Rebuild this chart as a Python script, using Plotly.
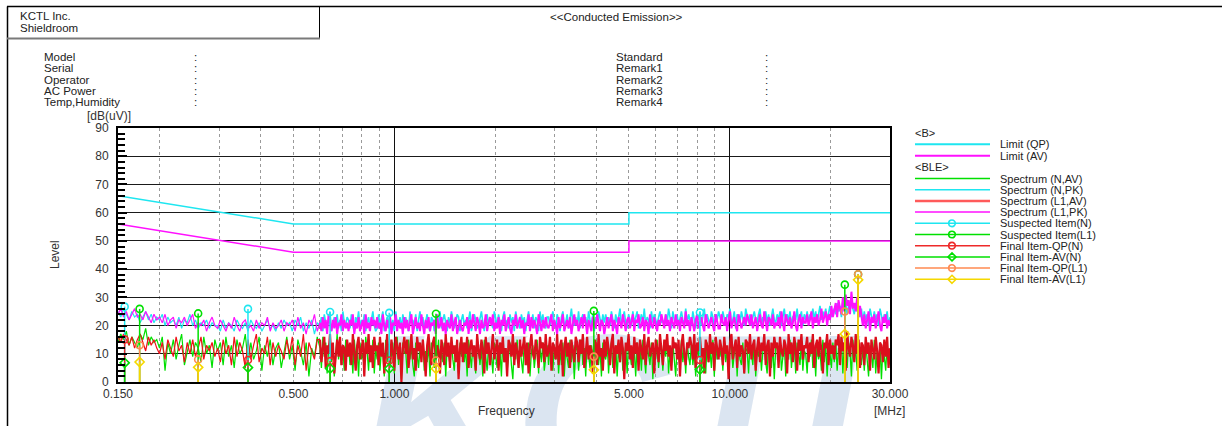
import base64
import numpy as np
import plotly.graph_objects as go

# ---------------------------------------------------------------- data
# Limit lines (CISPR-style), MHz / dB(uV)
limit_freq = [0.15, 0.5, 5.0, 5.0, 30.0]
limit_qp = [66, 56, 56, 60, 60]
limit_av = [56, 46, 46, 50, 50]

# Spectrum sweeps: segment A = 0.15..0.6 MHz, segment B = 0.6..30 MHz (log-spaced sweep points)
mag_A = [24,26,23,25,22,24,26,23,24,22,25,23,21,24,22,
         23,21,24,20,22,23,19,22,21,23,20,22,24,19,21,20,22,18,21,23,20,
         19,22,20,18,21,19,23,20,18,21,22,19,20,18,22,19,21,20,23,18,21,19,20,22,18,21,
         20,22,18,23,19,21,17,22,20,24,18]
cyan_A = [25,23,26,24,22,25,23,24,21,23,25,22,24,21,23,
          22,24,20,23,21,22,20,23,19,22,21,24,20,22,19,21,20,22,19,21,20,
          20,18,22,19,21,20,18,22,20,19,21,18,22,20,19,21,18,20,22,19,20,18,21,19,22,20,
          21,18,22,20,23,18,21,19,22,17,21]
red_A = [16,14,17,15,13,16,12,15,17,14,11,16,13,15,12,
         10,14,8,15,12,9,16,11,13,7,14,10,15,9,12,16,8,13,11,14,9,
         12,7,15,10,13,6,16,9,14,11,5,15,8,13,17,7,12,10,16,6,14,9,13,11,8,15,
         10,16,6,13,9,17,4,14,11,8,15]
green_A = [14,17,15,18,13,16,14,12,17,15,19,13,16,14,15,
           12,16,4,14,10,15,8,13,17,6,11,15,9,14,12,7,16,10,13,5,15,
           11,14,6,16,9,13,5,15,10,12,17,7,14,8,11,16,4,13,9,15,6,12,14,5,10,16,
           8,13,4,15,11,6,14,2,12,9,16]

mag_B = [21,18,23,19,22,17,24,20,18,22,19,23,17,21,20,24,18,22,19,21,
         18,22,20,24,17,21,19,23,18,20,22,17,24,19,21,18,23,20,22,19,
         23,19,21,17,24,20,18,22,19,23,17,21,20,24,18,22,19,21,17,23,
         19,22,18,21,24,17,20,23,19,21,18,24,20,17,22,19,23,18,21,20,
         22,17,24,19,20,23,18,21,17,22,20,19,24,18,21,23,17,20,22,19,
         18,21,20,23,17,22,19,24,20,18,23,21,17,22,19,20,24,18,21,23,
         20,24,18,21,19,23,17,22,20,24,18,21,23,19,17,22,20,24,19,21,
         23,19,22,17,21,20,24,18,23,19,22,20,17,24,21,18,22,19,23,20,
         19,21,24,18,22,20,17,23,19,21,24,18,20,22,19,23,17,21,24,20,
         22,18,20,23,19,24,21,17,22,20,18,23,21,19,24,20,18,22,21,17,
         20,23,19,21,24,18,22,20,17,23,21,19,24,20,18,22,23,19,21,24,
         18,22,21,24,19,20,23,18,22,21,17,24,20,19,23,21,18,22,20,24,
         21,19,24,20,22,18,23,21,19,24,20,22,18,23,21,19,25,20,22,18,
         23,20,18,22,24,19,21,23,20,18,24,22,19,21,23,20,18,24,21,19,
         19,24,21,20,23,18,22,25,19,21,23,20,18,24,22,19,21,23,20,24,
         22,20,24,19,21,23,18,22,24,20,19,25,21,18,23,22,20,24,19,21,
         20,23,19,25,21,18,24,22,20,23,19,21,25,20,18,22,24,19,23,21,
         21,24,20,22,25,19,23,21,24,20,22,26,21,23,25,20,24,22,27,23,
         25,28,23,29,26,24,30,25,31,27,29,24,32,26,28,25,30,23,27,24,
         20,24,19,22,25,18,23,21,24,19,22,25,20,18,23,21,24,19,22,20]
cyan_B = [20,23,18,24,21,19,22,25,18,21,23,20,24,19,22,18,25,21,20,23,
          22,19,24,20,18,23,21,25,19,22,20,24,18,21,23,19,22,25,20,18,
          19,24,20,22,25,18,21,23,20,24,19,22,18,25,21,20,23,19,24,21,
          23,20,18,25,21,22,19,24,18,22,25,20,23,19,21,24,20,18,23,22,
          18,23,21,20,25,19,22,24,21,18,23,20,25,22,19,21,24,23,18,22,
          24,20,22,19,23,25,18,21,24,22,19,20,23,25,21,18,22,24,20,23,
          21,19,25,22,20,24,21,18,23,25,20,22,19,24,21,23,18,25,22,20,
          19,24,21,23,18,22,25,20,21,24,19,23,22,18,25,21,24,20,19,23,
          23,20,22,25,21,19,24,22,18,23,25,20,21,24,19,22,26,21,20,23,
          20,25,19,22,24,21,23,19,25,22,20,24,18,23,21,25,22,20,24,21,
          24,21,23,20,25,22,19,24,21,23,26,20,22,25,21,19,24,22,20,25,
          21,23,25,19,22,24,21,26,20,23,22,19,25,21,24,22,20,23,25,21,
          22,20,24,21,26,23,19,25,22,21,24,20,23,25,22,20,26,21,24,22,
          20,25,22,19,24,22,25,20,23,26,21,24,22,20,25,23,19,24,22,25,
          23,21,25,22,20,24,23,26,21,22,25,19,24,23,21,25,22,20,26,23,
          21,24,20,23,25,22,21,24,26,20,23,22,25,21,24,20,23,26,22,21,
          24,22,25,20,23,26,21,24,22,25,20,23,24,22,26,21,23,25,20,24,
          22,25,21,24,23,26,22,25,21,24,27,22,25,23,26,22,24,27,23,25,
          26,24,28,25,27,23,29,26,28,24,27,25,29,26,24,28,25,27,23,26,
          21,25,22,24,20,26,23,21,25,22,24,20,26,23,21,24,22,25,20,23]
red_B = [15,7,12,16,5,13,10,17,8,14,3,11,15,9,16,6,13,12,4,15,
         9,14,6,17,11,4,13,16,8,12,15,2,14,10,17,7,13,5,16,11,
         13,6,16,9,14,3,12,17,10,7,15,11,4,16,13,8,14,0,12,16,
         10,15,5,13,17,8,12,4,16,11,14,7,15,9,2,13,17,10,6,14,
         16,8,13,11,3,15,12,6,17,9,14,5,16,10,13,7,15,1,12,16,
         7,14,10,16,5,12,15,9,13,4,17,11,8,15,12,3,16,10,14,6,
         13,17,8,11,15,4,14,10,16,7,12,2,15,13,9,17,6,14,11,5,
         15,9,12,16,6,14,3,13,17,10,8,15,11,5,16,12,14,7,17,9,
         11,16,4,14,12,8,17,6,13,15,2,12,16,9,14,5,15,11,7,16,
         14,7,15,10,17,5,12,16,8,13,11,3,15,14,6,17,9,12,4,15,
         9,16,12,6,14,17,3,13,10,15,7,16,12,1,14,11,17,8,13,5,
         16,10,14,4,15,12,8,17,6,13,16,9,11,14,3,15,12,7,17,10,
         6,15,11,17,9,13,4,16,12,14,8,15,2,13,17,10,6,14,12,16,
         13,8,17,5,14,11,16,9,12,3,15,13,7,17,10,14,4,16,11,8,
         15,12,6,16,10,13,1,14,17,8,12,15,5,16,9,13,11,3,15,14,
         10,17,8,13,15,4,12,16,7,14,11,17,6,13,15,2,14,9,16,12,
         14,5,16,11,9,15,13,3,17,10,14,7,16,12,4,15,11,17,8,13,
         12,16,7,14,10,17,5,13,15,9,16,11,3,14,12,17,6,15,10,13,
         8,15,13,17,6,16,11,14,4,18,12,9,16,13,7,17,10,15,5,14,
         13,6,16,10,14,4,15,12,8,16,11,3,14,13,7,15,9,16,5,12]
green_B = [12,5,16,9,14,3,11,15,7,13,2,10,17,8,14,6,12,4,15,9,
           13,6,11,3,15,9,12,2,14,8,10,5,16,11,4,13,7,15,3,12,
           8,14,4,12,10,2,15,7,13,5,11,14,3,9,16,6,12,1,14,10,
           11,3,15,8,13,6,2,14,10,5,12,9,15,4,11,7,13,2,14,8,
           5,13,9,15,3,11,7,14,2,12,10,6,15,8,4,13,11,3,14,9,
           14,7,12,2,15,10,5,13,8,3,14,11,6,12,2,15,9,4,13,7,
           10,3,14,9,5,13,11,2,15,7,12,4,10,14,6,1,13,8,15,5,
           12,8,3,15,10,6,14,2,11,13,5,9,15,3,12,7,14,4,10,13,
           6,14,10,4,13,8,15,3,11,6,14,2,12,9,5,15,7,13,1,11,
           13,4,9,15,6,12,2,14,10,5,13,8,3,15,11,6,12,2,14,9,
           8,15,3,11,14,5,10,13,2,12,7,15,4,9,13,3,14,10,6,12,
           11,2,14,7,12,4,15,9,3,13,10,6,14,1,12,8,15,5,11,13,
           4,12,9,15,3,11,6,14,8,2,13,10,5,15,7,12,3,14,9,6,
           14,6,11,2,13,9,15,4,10,12,3,14,7,11,5,15,2,13,8,10,
           9,13,4,15,7,11,3,14,12,5,10,15,2,13,8,6,14,3,12,11,
           3,14,10,6,15,2,12,9,13,4,11,15,7,3,14,10,5,13,1,12,
           13,7,15,4,10,14,2,12,8,15,5,11,13,3,14,9,6,15,4,11,
           10,3,13,9,15,5,12,2,14,8,11,4,15,7,13,2,12,10,5,14,
           7,15,4,12,10,16,3,13,9,5,14,11,2,15,8,12,4,14,10,6,
           12,4,14,8,2,13,10,5,15,3,11,7,13,1,12,9,4,14,6,10]

# Suspected / final measurement items (MHz, dB(uV))
susp_N_f = [0.157, 0.366, 0.643, 0.965, 8.14]
susp_N_v = [26.7, 25.9, 24.8, 24.5, 24.6]
susp_L1_f = [0.174, 0.260, 1.33, 3.93, 22.0, 24.1]
susp_L1_v = [25.9, 24.3, 24.2, 25.2, 34.5, 38.2]
qp_N_f = [0.157, 0.366, 0.643, 0.965, 8.14]
qp_N_v = [15.1, 7.8, 7.4, 7.6, 7.8]
av_N_f = [0.157, 0.366, 0.643, 0.965, 8.14]
av_N_v = [6.8, 5.1, 4.8, 4.8, 4.4]
qp_L1_f = [0.174, 0.260, 1.33, 3.93, 22.0, 24.1]
qp_L1_v = [13.0, 8.0, 7.6, 9.0, 25.0, 38.2]
av_L1_f = [0.174, 0.260, 1.33, 3.93, 22.0, 24.1]
av_L1_v = [7.1, 5.2, 4.7, 4.3, 17.0, 36.2]

x_tick_vals = [0.15, 0.5, 1, 5, 10, 30]
x_tick_text = ["0.150", "0.500", "1.000", "5.000", "10.000", "30.000"]
x_minor_vals = [0.2, 0.3, 0.4, 0.5, 0.6, 0.7, 0.8, 0.9, 2, 3, 4, 5, 6, 7, 8, 9, 20]
x_major_grid = [1, 10]

info_left = ["Model", "Serial", "Operator", "AC Power", "Temp,Humidity"]
info_right = ["Standard", "Remark1", "Remark2", "Remark3", "Remark4"]

# ---------------------------------------------------------------- styling
FONT = "Liberation Sans, Arial, sans-serif"
C_CYAN = "#1ee6f0"
C_MAG = "#ff10ff"
C_GREEN = "#00e000"
C_RED = "#f01018"
C_RED_DENSE = "#db0f1c"
C_QPN = "#ee2a2a"
C_ORANGE = "#ff8a50"
C_YELLOW = "#f5d800"

W, H = 1222, 426
PL, PR, PT, PB = 118, 890, 128, 382   # plot-area pixel box
F_SPLIT = 0.6                          # sweep segment boundary, MHz


def X(px):
    return (px - PL) / (PR - PL)


def Y(py):
    return (PB - py) / (PB - PT)


def stems(fs, vs):
    xs, ys = [], []
    for f, v in zip(fs, vs):
        xs += [f, f, None]
        ys += [0, v, None]
    return xs, ys


fig = go.Figure()

# spectra: low band (coarser sweep) and high band (fine sweep)
spectra = [("Spectrum (N,AV)", green_A, green_B, C_GREEN, C_GREEN, 1.3),
           ("Spectrum (N,PK)", cyan_A, cyan_B, C_CYAN, C_CYAN, 1.6),
           ("Spectrum (L1,AV)", red_A, red_B, C_RED, C_RED_DENSE, 2.2),
           ("Spectrum (L1,PK)", mag_A, mag_B, C_MAG, C_MAG, 2.0)]
for name, a, b, col_a, col_b, wb in spectra:
    fa = np.geomspace(0.15, F_SPLIT, len(a), endpoint=False)
    fb = np.geomspace(F_SPLIT, 30.0, len(b))
    fig.add_trace(go.Scatter(x=np.concatenate([fa, fb[:1]]), y=a + b[:1], mode="lines",
                             name=name, legendgroup=name,
                             line=dict(color=col_a, width=1.2), hoverinfo="skip"))
    fig.add_trace(go.Scatter(x=fb, y=b, mode="lines", name=name, legendgroup=name,
                             showlegend=False, line=dict(color=col_b, width=wb),
                             hoverinfo="skip"))

# limits (QP on the overlay axis that carries the major vertical grid)
fig.add_trace(go.Scatter(x=limit_freq, y=limit_qp, mode="lines", name="Limit (QP)",
                         line=dict(color=C_CYAN, width=1.5), xaxis="x2"))
fig.add_trace(go.Scatter(x=limit_freq, y=limit_av, mode="lines", name="Limit (AV)",
                         line=dict(color=C_MAG, width=1.5)))

# measurement items
items = [("Suspected Item(N)", susp_N_f, susp_N_v, C_CYAN, "circle-open"),
         ("Suspected Item(L1)", susp_L1_f, susp_L1_v, C_GREEN, "circle-open"),
         ("Final Item-QP(N)", qp_N_f, qp_N_v, C_QPN, "circle-open"),
         ("Final Item-AV(N)", av_N_f, av_N_v, C_GREEN, "diamond-open"),
         ("Final Item-QP(L1)", qp_L1_f, qp_L1_v, C_ORANGE, "circle-open"),
         ("Final Item-AV(L1)", av_L1_f, av_L1_v, C_YELLOW, "diamond-open")]
for name, fs, vs, col, sym in items:
    sx, sy = stems(fs, vs)
    fig.add_trace(go.Scatter(x=sx, y=sy, mode="lines", line=dict(color=col, width=1.5),
                             showlegend=False, hoverinfo="skip"))
for name, fs, vs, col, sym in items:
    fig.add_trace(go.Scatter(x=fs, y=vs, mode="markers", name=name,
                             marker=dict(symbol=sym, size=7, color=col, line=dict(color=col, width=1.6))))

# ---------------------------------------------------------------- axes
tickfont = dict(family=FONT, size=12, color="#333333")
fig.update_layout(
    width=W, height=H,
    margin=dict(l=PL, r=W - PR, t=PT, b=H - PB, pad=0),
    paper_bgcolor="white", plot_bgcolor="rgba(0,0,0,0)",
    showlegend=False,
    font=dict(family=FONT, size=11, color="#222222"),
    xaxis=dict(type="log", range=[np.log10(0.15), np.log10(30)],
               tickmode="array", tickvals=x_tick_vals, ticktext=x_tick_text,
               ticks="", showgrid=False, zeroline=False, tickfont=tickfont,
               showline=True, linecolor="black", linewidth=1.5, mirror=True,
               minor=dict(tickmode="array", tickvals=x_minor_vals, showgrid=True,
                          gridcolor="#9a9a9a", gridwidth=1, griddash="dot", ticks="")),
    xaxis2=dict(type="log", range=[np.log10(0.15), np.log10(30)], overlaying="x",
                anchor="y", tickmode="array", tickvals=x_major_grid,
                showticklabels=False, ticks="", showgrid=True,
                gridcolor="#111111", gridwidth=1.2, zeroline=False, showline=False),
    yaxis=dict(range=[0, 90], tickmode="linear", tick0=0, dtick=10,
               showgrid=True, gridcolor="#1a1a1a", gridwidth=1.2, zeroline=False,
               ticks="inside", ticklen=9, tickwidth=2, tickcolor="black",
               tickfont=tickfont, ticklabelstandoff=5,
               showline=True, linecolor="black", linewidth=2, mirror=True,
               minor=dict(dtick=2, ticks="inside", ticklen=7, tickwidth=1.5,
                          tickcolor="black", showgrid=False)),
)

# ---------------------------------------------------------------- header / labels
ann = []


def text(px, py, s, size=11.5, xanchor="left", color="#222222", angle=0):
    ann.append(dict(x=X(px), y=Y(py), xref="paper", yref="paper", text=s,
                    showarrow=False, xanchor=xanchor, yanchor="middle",
                    textangle=angle, font=dict(family=FONT, size=size, color=color)))


text(18, 16, "KCTL Inc.")
text(18, 28, "Shieldroom")
text(616, 17, "&lt;&lt;Conducted Emission&gt;&gt;", xanchor="center")
for i, (lab, rlab) in enumerate(zip(info_left, info_right)):
    yy = 57 + i * 11.3
    text(42, yy, lab)
    text(192, yy, ":")
    text(614, yy, rlab)
    text(763, yy, ":")
text(109, 116, "[dB(uV)]", size=12, xanchor="center", color="#333333")
text(55, 255, "Level", size=12, xanchor="center", color="#333333", angle=-90)
text(506, 411, "Frequency", size=12, xanchor="center", color="#333333")
text(889, 411, "[MHz]", size=12, xanchor="center", color="#333333")

# legend (drawn manually to match the compact instrument-style key)
legend_rows = [("&lt;B&gt;", None, None, None, 133),
               ("Limit (QP)", C_CYAN, 2, None, 144.3),
               ("Limit (AV)", C_MAG, 2, None, 155.7),
               ("&lt;BLE&gt;", None, None, None, 166.7)]
key_items = [("Spectrum (N,AV)", C_GREEN, 1.5, None),
             ("Spectrum (N,PK)", C_CYAN, 1.5, None),
             ("Spectrum (L1,AV)", "#ff5a5a", 2.5, None),
             ("Spectrum (L1,PK)", C_MAG, 1.5, None)] + \
            [(n, c, 1.5, "circle" if "circle" in s else "diamond") for n, _, _, c, s in items]
for k, (n, c, w, s) in enumerate(key_items):
    legend_rows.append((n, c, w, s, 178.5 + k * 11.2))

shapes = []
for lab, col, w, sym, yy in legend_rows:
    if col is None:
        text(913, yy, lab, size=11)
        continue
    text(998, yy, lab, size=11)
    shapes.append(dict(type="line", xref="paper", yref="paper", x0=X(915), x1=X(990),
                       y0=Y(yy), y1=Y(yy), line=dict(color=col, width=w)))
    if sym == "circle":
        shapes.append(dict(type="circle", xref="paper", yref="paper", xsizemode="pixel",
                           ysizemode="pixel", xanchor=X(952), yanchor=Y(yy),
                           x0=-3.3, x1=3.3, y0=-3.3, y1=3.3, line=dict(color=col, width=1.6)))
    elif sym == "diamond":
        shapes.append(dict(type="path", xref="paper", yref="paper", xsizemode="pixel",
                           ysizemode="pixel", xanchor=X(952), yanchor=Y(yy),
                           path="M0,-4 L4,0 L0,4 L-4,0 Z", line=dict(color=col, width=1.6)))

# page frame
frame = [((7, 6.5), (1222, 6.5), "black", 1.5),
         ((7.5, 6.5), (7.5, 426), "black", 1.5),
         ((319.5, 6.5), (319.5, 38), "black", 1),
         ((7, 38.5), (320, 38.5), "#7a7a7a", 2)]
for (x0, y0), (x1, y1), col, w in frame:
    shapes.append(dict(type="line", xref="paper", yref="paper", x0=X(x0), y0=Y(y0),
                       x1=X(x1), y1=Y(y1), line=dict(color=col, width=w)))

# faint company watermark behind the data
svg = ('<svg xmlns="http://www.w3.org/2000/svg" width="1222" height="426">'
       '<text x="362" y="482" font-family="Liberation Sans, Arial, sans-serif" '
       'font-size="212" font-weight="bold" font-style="italic" fill="#dbe5f1">KCTL</text></svg>')
src = "data:image/svg+xml;base64," + base64.b64encode(svg.encode()).decode()

fig.update_layout(
    annotations=ann, shapes=shapes,
    images=[dict(source=src, xref="paper", yref="paper", x=X(0), y=Y(0),
                 sizex=W / (PR - PL), sizey=H / (PB - PT), xanchor="left", yanchor="top",
                 sizing="stretch", layer="below")])

fig.write_html("out.html", config={"displayModeBar": False},
               post_script="document.body.style.margin='0';")
